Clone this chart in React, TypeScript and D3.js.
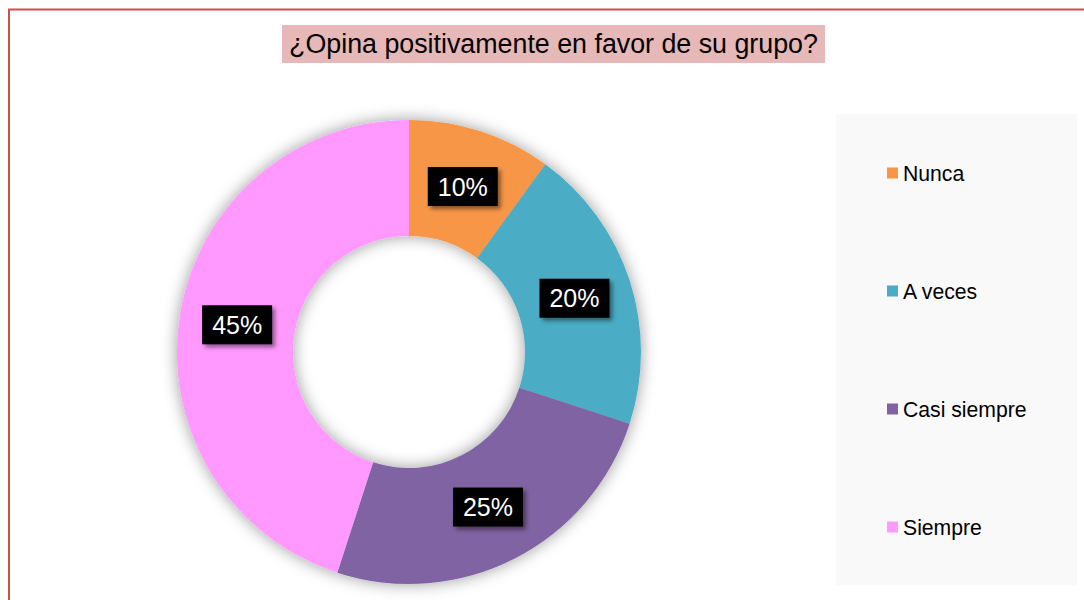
import { useEffect, useRef } from 'react';
import * as d3 from 'd3';

const W = 1084;
const H = 600;

const TITLE = '¿Opina positivamente en favor de su grupo?';
const CATEGORIES = ['Nunca', 'A veces', 'Casi siempre', 'Siempre'];
const VALUES = [10, 20, 25, 45];
const COLORS = ['#f79646', '#4bacc6', '#8064a2', '#ff99ff'];

const CX = 409;
const CY = 352;
const R_OUT = 232;
const R_IN = 116;

export default function App() {
  const svgRef = useRef<SVGSVGElement | null>(null);

  useEffect(() => {
    const svg = d3.select(svgRef.current);
    svg.selectAll('*').remove();

    const defs = svg.append('defs');
    const ringShadow = defs.append('filter').attr('id', 'ringShadow')
      .attr('x', '-20%').attr('y', '-20%').attr('width', '140%').attr('height', '140%');
    ringShadow.append('feDropShadow')
      .attr('dx', 0).attr('dy', 0).attr('stdDeviation', 8)
      .attr('flood-color', '#000').attr('flood-opacity', 0.4);
    const boxShadow = defs.append('filter').attr('id', 'boxShadow')
      .attr('x', '-30%').attr('y', '-30%').attr('width', '160%').attr('height', '160%');
    boxShadow.append('feDropShadow')
      .attr('dx', 3).attr('dy', 3).attr('stdDeviation', 2)
      .attr('flood-color', '#000').attr('flood-opacity', 0.45);

    // frame
    svg.append('rect')
      .attr('x', 9).attr('y', 9.5).attr('width', 1300).attr('height', 900)
      .attr('fill', '#fff').attr('stroke', '#c9504e').attr('stroke-width', 2);

    // title
    svg.append('rect')
      .attr('x', 282).attr('y', 25).attr('width', 543).attr('height', 38)
      .attr('fill', '#e6b8b7');
    svg.append('text')
      .attr('x', 553.5).attr('y', 53)
      .attr('text-anchor', 'middle')
      .style('font-family', 'Arial, "Liberation Sans", sans-serif')
      .style('font-size', '26.8px')
      .attr('fill', '#000')
      .text(TITLE);

    // legend box
    svg.append('rect')
      .attr('x', 836).attr('y', 114).attr('width', 241).attr('height', 471)
      .attr('fill', '#f9f9f9');

    const ly = d3.scalePoint<string>().domain(CATEGORIES).range([173, 527]);
    const legend = svg.append('g');
    CATEGORIES.forEach((c, i) => {
      const y = ly(c) as number;
      legend.append('rect')
        .attr('x', 887).attr('y', y - 5.5).attr('width', 11).attr('height', 11)
        .attr('fill', COLORS[i]);
      legend.append('text')
        .attr('x', 903).attr('y', y + 7.5)
        .style('font-family', 'Arial, "Liberation Sans", sans-serif')
        .style('font-size', '21.2px')
        .attr('fill', '#000')
        .text(c);
    });

    // donut
    const pie = d3.pie<number>().sort(null).value((d) => d);
    const arcs = pie(VALUES);
    const arc = d3.arc<d3.PieArcDatum<number>>().innerRadius(R_IN).outerRadius(R_OUT);

    const g = svg.append('g').attr('transform', `translate(${CX},${CY})`);
    g.append('g').attr('filter', 'url(#ringShadow)')
      .selectAll('path')
      .data(arcs)
      .join('path')
      .attr('d', arc)
      .attr('fill', (_d, i) => COLORS[i]);

    const total = d3.sum(VALUES);
    arcs.forEach((a) => {
      const [x, y] = arc.centroid(a);
      const lbl = `${Math.round((a.data / total) * 100)}%`;
      g.append('rect')
        .attr('x', x - 35).attr('y', y - 19.5).attr('width', 70).attr('height', 39)
        .attr('fill', '#000')
        .attr('filter', 'url(#boxShadow)');
      g.append('text')
        .attr('x', x).attr('y', y + 9)
        .attr('text-anchor', 'middle')
        .style('font-family', 'Arial, "Liberation Sans", sans-serif')
        .style('font-size', '25px')
        .attr('fill', '#fff')
        .text(lbl);
    });
  }, []);

  return (
    <div style={{ position: 'fixed', left: 0, top: 0, width: W, height: H, background: '#fff' }}>
      <svg ref={svgRef} width={W} height={H} style={{ display: 'block' }} />
    </div>
  );
}
